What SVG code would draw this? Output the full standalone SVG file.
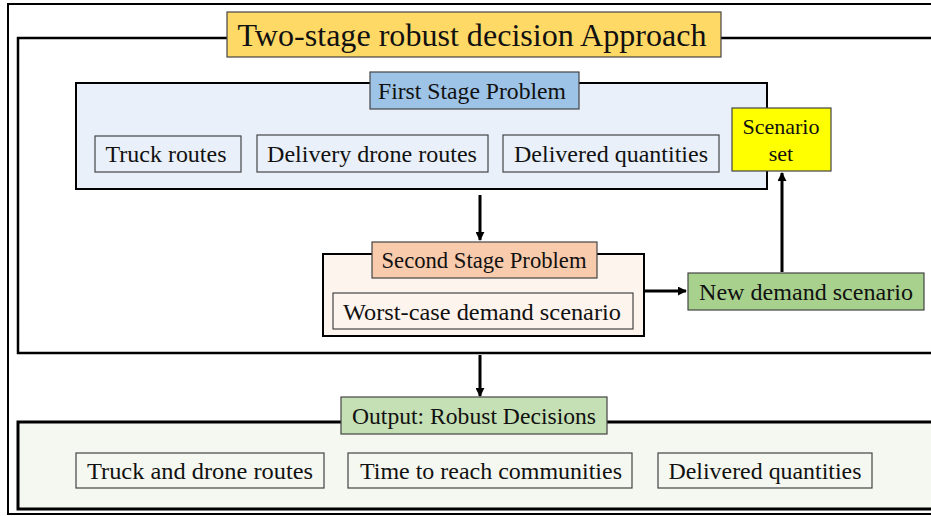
<svg xmlns="http://www.w3.org/2000/svg" width="931" height="516" viewBox="0 0 931 516">
<style>
text{font-family:"Liberation Serif","Times New Roman",serif;fill:#111;text-anchor:middle}
.t20{font-size:23px}
.frame{fill:none;stroke:#000;stroke-width:2.5}
.hdr{stroke:#444;stroke-width:1.2}
.item{stroke:#444;stroke-width:1.2}
.conn{stroke:#000;stroke-width:3;fill:none}
</style>
<defs>
<marker id="ah" viewBox="0 0 10 10" refX="9" refY="5" markerWidth="3" markerHeight="3" orient="auto">
<path d="M0,0 L10,5 L0,10 z" fill="#000"/>
</marker>
</defs>
<rect width="931" height="516" fill="#fff"/>
<g id="outer-frame">
<rect x="8" y="4" width="940" height="510" fill="none" stroke="#000" stroke-width="2"/>
</g>
<g id="approach-frame">
<rect x="18" y="38" width="930" height="315" class="frame"/>
</g>
<g id="title">
<rect x="227" y="12" width="494" height="45" fill="#FFD966" class="hdr"/>
<text x="472" y="46" font-size="31" textLength="469" lengthAdjust="spacingAndGlyphs">Two-stage robust decision Approach</text>
</g>
<g id="first-stage">
<rect x="76" y="83" width="691" height="106" fill="#E9F0F9" stroke="#000" stroke-width="2"/>
<rect x="370" y="72" width="209" height="37" fill="#9DC3E6" class="hdr"/>
<text x="472" y="99" class="t20" textLength="188" lengthAdjust="spacingAndGlyphs">First Stage Problem</text>
</g>
<g id="truck-routes">
<rect x="95" y="136" width="146" height="36" fill="#E9F0F9" class="item"/>
<text x="166" y="162" class="t20" textLength="121" lengthAdjust="spacingAndGlyphs">Truck routes</text>
</g>
<g id="drone-routes">
<rect x="257" y="135" width="231" height="37" fill="#E9F0F9" class="item"/>
<text x="372" y="162" class="t20" textLength="210" lengthAdjust="spacingAndGlyphs">Delivery drone routes</text>
</g>
<g id="delivered-1">
<rect x="503" y="135" width="216" height="37" fill="#E9F0F9" class="item"/>
<text x="611" y="162" class="t20" textLength="194" lengthAdjust="spacingAndGlyphs">Delivered quantities</text>
</g>
<g id="scenario-set">
<rect x="732" y="108" width="99" height="63" fill="#FFFF00" class="hdr"/>
<text x="781" y="134" font-size="22">Scenario</text>
<text x="781" y="161" font-size="22">set</text>
</g>
<g id="second-stage">
<rect x="323" y="254" width="321" height="82" fill="#FDF4EE" stroke="#000" stroke-width="2"/>
<rect x="372" y="242" width="225" height="36" fill="#F8CBAD" class="hdr"/>
<text x="484" y="268" class="t20" textLength="205" lengthAdjust="spacingAndGlyphs">Second Stage Problem</text>
</g>
<g id="worst-case">
<rect x="333" y="293" width="300" height="36" fill="#FDF4EE" class="item"/>
<text x="482" y="320" class="t20" textLength="278" lengthAdjust="spacingAndGlyphs">Worst-case demand scenario</text>
</g>
<g id="new-demand">
<rect x="688" y="273" width="236" height="37" fill="#A9D18E" class="hdr"/>
<text x="806" y="300" class="t20" textLength="214" lengthAdjust="spacingAndGlyphs">New demand scenario</text>
</g>
<g id="output">
<rect x="18" y="422" width="930" height="87" fill="#F5F8F0" stroke="#000" stroke-width="3"/>
<rect x="341" y="397" width="266" height="37" fill="#C5E0B4" class="hdr"/>
<text x="474" y="424" class="t20" textLength="244" lengthAdjust="spacingAndGlyphs">Output: Robust Decisions</text>
</g>
<g id="out-routes">
<rect x="76" y="453" width="248" height="35" fill="#F5F8F0" class="item"/>
<text x="200" y="479" class="t20" textLength="226" lengthAdjust="spacingAndGlyphs">Truck and drone routes</text>
</g>
<g id="out-time">
<rect x="348" y="453" width="284" height="35" fill="#F5F8F0" class="item"/>
<text x="491" y="479" class="t20" textLength="262" lengthAdjust="spacingAndGlyphs">Time to reach communities</text>
</g>
<g id="out-delivered">
<rect x="658" y="453" width="214" height="35" fill="#F5F8F0" class="item"/>
<text x="765" y="479" class="t20" textLength="193" lengthAdjust="spacingAndGlyphs">Delivered quantities</text>
</g>
<g id="connectors">
<line x1="480" y1="195" x2="480" y2="240" class="conn" marker-end="url(#ah)"/>
<line x1="645" y1="291" x2="686" y2="291" class="conn" marker-end="url(#ah)"/>
<line x1="782" y1="272" x2="782" y2="173" class="conn" marker-end="url(#ah)"/>
<line x1="480" y1="355" x2="480" y2="396" class="conn" marker-end="url(#ah)"/>
</g>
</svg>
